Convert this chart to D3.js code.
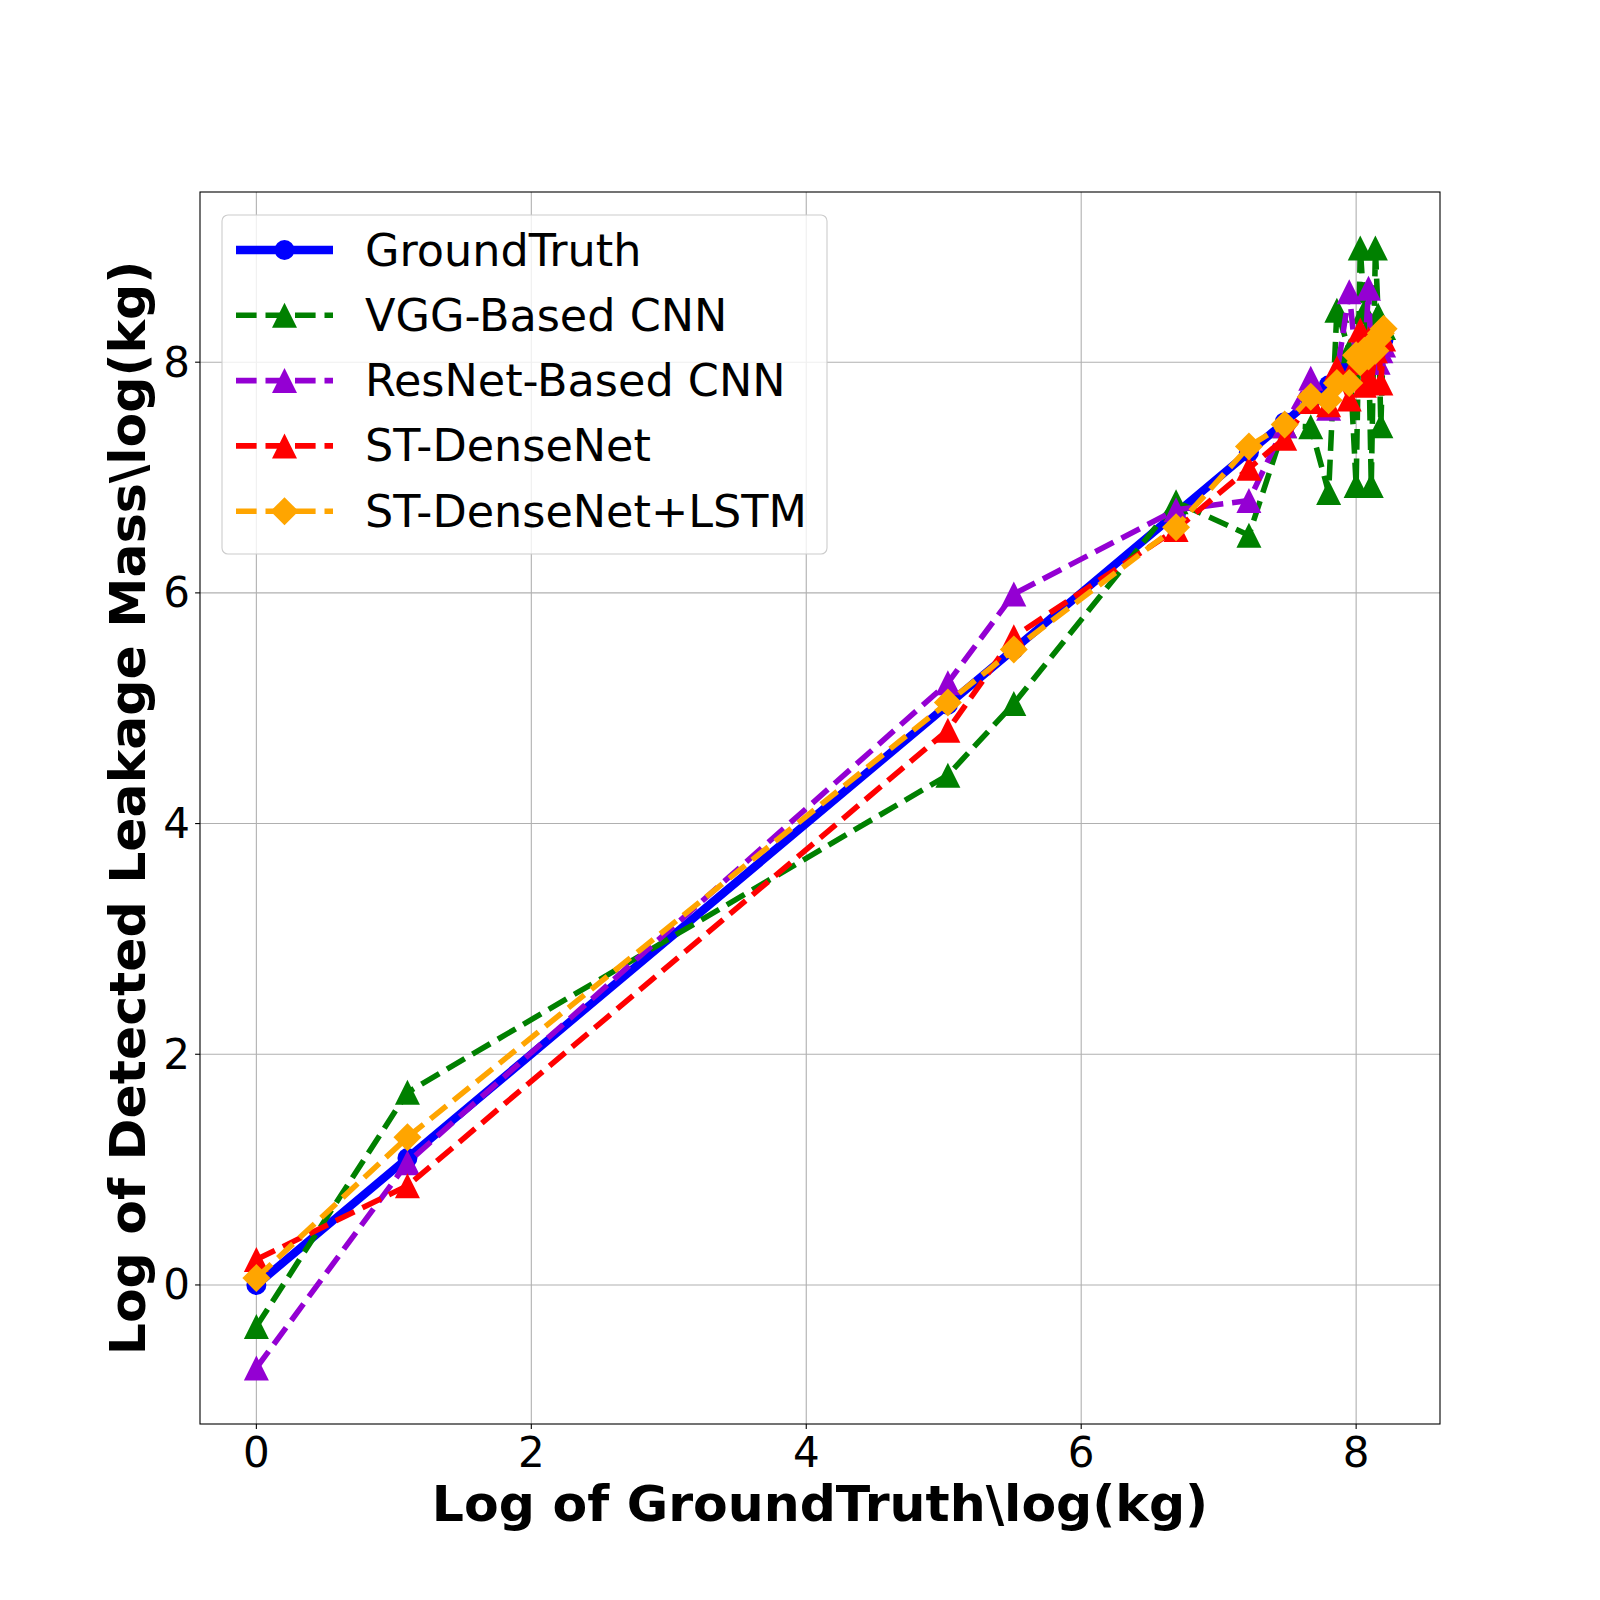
<!DOCTYPE html>
<html><head><meta charset="utf-8">
<script src="https://cdn.jsdelivr.net/npm/d3@7/dist/d3.min.js"></script>
<style>body{margin:0;background:#fff}svg{display:block}text{font-family:"DejaVu Sans",sans-serif}</style>
</head><body>
<svg id="c" width="1600" height="1600"></svg>
<script>
const xVals = [0, 1.099, 5.03, 5.51, 6.69, 7.22, 7.48, 7.67, 7.80, 7.86, 7.95, 8.00, 8.03, 8.06, 8.09, 8.11, 8.14, 8.16, 8.18, 8.20];
const groundTruth = [0, 1.10, 5.03, 5.51, 6.69, 7.22, 7.48, 7.67, 7.80, 7.86, 7.95, 8.00, 8.03, 8.06, 8.09, 8.11, 8.14, 8.16, 8.18, 8.20];
const vggCnn = [-0.36, 1.67, 4.42, 5.04, 6.79, 6.50, 7.45, 7.44, 6.87, 8.45, 8.10, 6.93, 8.99, 8.44, 8.20, 6.93, 8.99, 8.41, 7.45, 8.30];
const resnetCnn = [-0.72, 1.06, 5.22, 5.99, 6.72, 6.80, 7.45, 7.86, 7.60, 7.90, 8.61, 8.00, 8.10, 8.00, 8.64, 8.00, 8.10, 8.00, 8.10, 8.15];
const stDenseNet = [0.22, 0.86, 4.81, 5.62, 6.55, 7.08, 7.34, 7.66, 7.63, 7.95, 7.68, 8.00, 8.28, 7.80, 8.20, 7.83, 8.10, 8.25, 7.82, 8.20];
const stDenseNetLstm = [0.06, 1.28, 5.05, 5.51, 6.57, 7.27, 7.46, 7.70, 7.67, 7.82, 7.82, 8.06, 8.00, 8.10, 8.05, 8.15, 8.10, 8.20, 8.25, 8.29];
const seriesNames = ["GroundTruth", "VGG-Based CNN", "ResNet-Based CNN", "ST-DenseNet", "ST-DenseNet+LSTM"];
const seriesColors = ["#0000ff", "#008000", "#9400d3", "#ff0000", "#ffa500"];
const seriesMarkers = ["circle", "triangle", "triangle", "triangle", "diamond"];
const xTicks = [0, 2, 4, 6, 8];
const yTicks = [0, 2, 4, 6, 8];
const xTitle = "Log of GroundTruth\\log(kg)";
const yTitle = "Log of Detected Leakage Mass\\log(kg)";

const seriesValues = [groundTruth, vggCnn, resnetCnn, stDenseNet, stDenseNetLstm];
const svg = d3.select("#c");
const L = 200, R = 1440, T = 192, B = 1424;

const allY = seriesValues.flat();
const xmin = d3.min(xVals), xmax = d3.max(xVals);
const ymin = d3.min(allY), ymax = d3.max(allY);
const xp = (xmax - xmin) * 0.05, yp = (ymax - ymin) * 0.05;
const x = d3.scaleLinear().domain([xmin - xp, xmax + xp]).range([L, R]);
const y = d3.scaleLinear().domain([ymin - yp, ymax + yp]).range([B, T]);

svg.append("rect").attr("width", 1600).attr("height", 1600).attr("fill", "#fff");

// grid
const g = svg.append("g");
g.selectAll(".gx").data(xTicks).join("line")
  .attr("x1", d => x(d)).attr("x2", d => x(d)).attr("y1", T).attr("y2", B)
  .attr("stroke", "#b0b0b0").attr("stroke-width", 1.1);
g.selectAll(".gy").data(yTicks).join("line")
  .attr("y1", d => y(d)).attr("y2", d => y(d)).attr("x1", L).attr("x2", R)
  .attr("stroke", "#b0b0b0").attr("stroke-width", 1.1);

// clip
svg.append("clipPath").attr("id", "clip").append("rect")
  .attr("x", L).attr("y", T).attr("width", R - L).attr("height", B - T);

function markerPath(type) {
  if (type === "triangle") return "M0,-12.5L12.5,12.5L-12.5,12.5Z";
  if (type === "diamond") return "M0,-14L14,0L0,14L-14,0Z";
  return null;
}
function drawMarker(sel, type, color, cx, cy) {
  if (type === "circle") {
    sel.append("circle").attr("cx", cx).attr("cy", cy).attr("r", 10).attr("fill", color);
  } else {
    sel.append("path").attr("d", markerPath(type)).attr("transform", `translate(${cx},${cy})`).attr("fill", color);
  }
}

const plot = svg.append("g").attr("clip-path", "url(#clip)");
const line = d3.line().x(d => x(d[0])).y(d => y(d[1]));
seriesValues.forEach((vals, i) => {
  const pts = xVals.map((xv, j) => [xv, vals[j]]);
  const sg = plot.append("g");
  sg.append("path").attr("d", line(pts)).attr("fill", "none")
    .attr("stroke", seriesColors[i])
    .attr("stroke-width", i === 0 ? 8.3 : 5.56)
    .attr("stroke-dasharray", i === 0 ? null : "20.6,8.9")
    .attr("stroke-linejoin", "round").attr("stroke-linecap", i === 0 ? "round" : "butt");
  pts.forEach(p => drawMarker(sg, seriesMarkers[i], seriesColors[i], x(p[0]), y(p[1])));
});

// spines
svg.append("rect").attr("x", L).attr("y", T).attr("width", R - L).attr("height", B - T)
  .attr("fill", "none").attr("stroke", "#000").attr("stroke-width", 1.1);

// ticks
const ax = svg.append("g");
ax.selectAll(".tx").data(xTicks).join("line")
  .attr("x1", d => x(d)).attr("x2", d => x(d)).attr("y1", B).attr("y2", B + 4.9)
  .attr("stroke", "#000").attr("stroke-width", 1.1);
ax.selectAll(".lx").data(xTicks).join("text")
  .attr("x", d => x(d)).attr("y", 1467).attr("text-anchor", "middle")
  .attr("font-size", 42).text(d => d);
ax.selectAll(".ty").data(yTicks).join("line")
  .attr("y1", d => y(d)).attr("y2", d => y(d)).attr("x1", L - 4.9).attr("x2", L)
  .attr("stroke", "#000").attr("stroke-width", 1.1);
ax.selectAll(".ly").data(yTicks).join("text")
  .attr("x", 190).attr("y", d => y(d)).attr("text-anchor", "end").attr("dominant-baseline", "central")
  .attr("font-size", 42).text(d => d);

// axis titles
svg.append("text").attr("x", (L + R) / 2).attr("y", 1521).attr("text-anchor", "middle")
  .attr("font-size", 50.5).attr("font-weight", "bold").text(xTitle);
svg.append("text").attr("transform", `translate(145,${(T + B) / 2}) rotate(-90)`)
  .attr("text-anchor", "middle").attr("font-size", 50.5).attr("font-weight", "bold").text(yTitle);

// legend
const lg = svg.append("g");
lg.append("rect").attr("x", 222).attr("y", 215).attr("width", 605).attr("height", 339)
  .attr("rx", 6).attr("fill", "#fff").attr("fill-opacity", 0.8).attr("stroke", "#cccccc").attr("stroke-width", 1.1);
seriesNames.forEach((name, i) => {
  const cy = 250 + i * 65.3;
  lg.append("line").attr("x1", 236).attr("x2", 333).attr("y1", cy).attr("y2", cy)
    .attr("stroke", seriesColors[i]).attr("stroke-width", i === 0 ? 8.3 : 5.56)
    .attr("stroke-dasharray", i === 0 ? null : "20.6,8.9");
  drawMarker(lg, seriesMarkers[i], seriesColors[i], 284.5, cy);
  lg.append("text").attr("x", 365).attr("y", cy).attr("dominant-baseline", "central")
    .attr("font-size", 44.5).text(name);
});
</script>
</body></html>
